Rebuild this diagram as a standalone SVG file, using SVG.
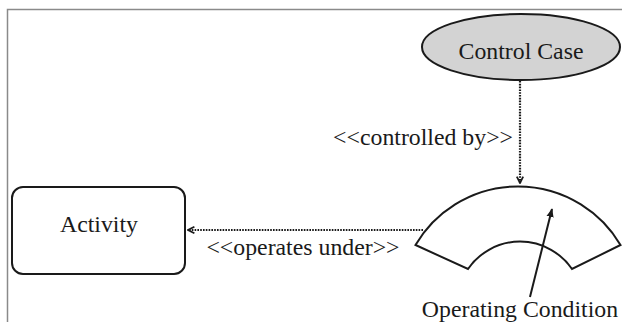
<svg xmlns="http://www.w3.org/2000/svg" width="622" height="322" viewBox="0 0 622 322">
  <style>
    .lbl { font-family: "Liberation Serif", "Times New Roman", serif; font-size: 23.8px; fill: #1a1a1a; }
    .shape { stroke: #1a1a1a; stroke-width: 2; }
    .dotted { stroke: #1a1a1a; stroke-width: 2.2; stroke-dasharray: 1.6 1.2; fill: none; }
  </style>
  <defs>
    <marker id="openArrow" viewBox="0 0 10 10" refX="9" refY="5" markerWidth="8" markerHeight="8" markerUnits="userSpaceOnUse" orient="auto">
      <path d="M1,1 L9,5 L1,9" fill="none" stroke="#1a1a1a" stroke-width="2.2"/>
    </marker>
    <marker id="solidArrow" viewBox="0 0 10 10" refX="9" refY="5" markerWidth="9" markerHeight="9" markerUnits="userSpaceOnUse" orient="auto">
      <path d="M0,1 L10,5 L0,9 Z" fill="#1a1a1a"/>
    </marker>
  </defs>

  <!-- frame edges -->
  <g id="frame" stroke="#8a8a8a" stroke-width="1.5" fill="none">
    <path d="M7.5,322 V9.5 H622"/>
  </g>

  <g id="control-case">
    <ellipse class="shape" cx="521" cy="47" rx="99" ry="33" fill="#d3d3d3"/>
    <text class="lbl" x="521" y="59" text-anchor="middle">Control Case</text>
  </g>

  <g id="activity">
    <rect class="shape" x="12" y="187" width="173" height="87" rx="11" ry="11" fill="#ffffff"/>
    <text class="lbl" x="99" y="232" text-anchor="middle">Activity</text>
  </g>

  <g id="operating-condition">
    <path class="shape" fill="#ffffff" d="M415.5,245 A119,119 0 0 1 620.5,245 L572,269 A63,63 0 0 0 468,269 Z"/>
    <line x1="530" y1="297" x2="552" y2="209" stroke="#1a1a1a" stroke-width="2" marker-end="url(#solidArrow)"/>
    <text class="lbl" x="520" y="317" text-anchor="middle">Operating Condition</text>
  </g>

  <g id="connectors">
    <line class="dotted" x1="520" y1="81" x2="520" y2="183" marker-end="url(#openArrow)"/>
    <text class="lbl" x="513" y="145" text-anchor="end">&lt;&lt;controlled by&gt;&gt;</text>
    <line class="dotted" x1="423" y1="230" x2="188" y2="230" marker-end="url(#openArrow)"/>
    <text class="lbl" x="303" y="255" text-anchor="middle">&lt;&lt;operates under&gt;&gt;</text>
  </g>
</svg>
